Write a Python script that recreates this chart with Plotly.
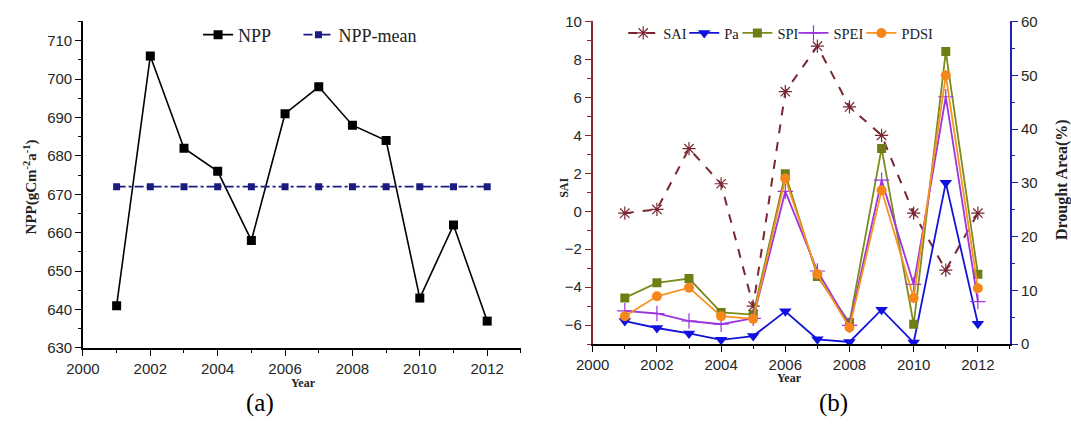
import plotly.graph_objects as go

# ---------------- data ----------------
years = [2001, 2002, 2003, 2004, 2005, 2006, 2007, 2008, 2009, 2010, 2011, 2012]
npp = [641, 706, 682, 676, 658, 691, 698, 688, 684, 643, 662, 637]
npp_mean = [672] * 12

sai = [-0.1, 0.1, 3.3, 1.45, -5.0, 6.3, 8.7, 5.5, 4.0, -0.1, -3.1, -0.1]
pa = [4.3, 3.0, 2.0, 0.8, 1.5, 6.1, 0.9, 0.4, 6.4, 0.3, 30.0, 3.8]
spi = [8.6, 11.4, 12.2, 5.9, 5.5, 31.7, 12.6, 4.0, 36.4, 3.7, 54.4, 13.0]
spei = [6.2, 5.7, 4.3, 3.7, 4.8, 28.4, 13.6, 3.5, 30.5, 11.1, 46.0, 7.9]
pdsi = [5.2, 8.9, 10.5, 5.2, 4.7, 30.8, 13.0, 3.1, 28.6, 8.6, 50.0, 10.4]

W, H = 1071, 428
def px(x):
    return x / W
def py(y):
    return 1 - y / H

SERIF = "Liberation Serif"
SANS = "Liberation Sans"
TICKFONT = dict(family=SANS, size=15, color="#262626")
TXT = "#222222"

fig = go.Figure()

# ---- panel (a) ----
fig.add_trace(go.Scatter(x=years, y=npp, name="NPP", mode="lines+markers",
                         line=dict(color="black", width=1.6),
                         marker=dict(symbol="square", size=9, color="black"),
                         xaxis="x", yaxis="y", legend="legend"))
fig.add_trace(go.Scatter(x=years, y=npp_mean, name="NPP-mean", mode="lines+markers",
                         line=dict(color="#1a1a80", width=1.6, dash="dashdot"),
                         marker=dict(symbol="square", size=7, color="#1a1a80"),
                         xaxis="x", yaxis="y", legend="legend2"))

# ---- panel (b) ----
fig.add_trace(go.Scatter(x=years, y=sai, name="SAI", mode="lines+markers",
                         line=dict(color="#7a2630", width=2, dash="dash"),
                         marker=dict(symbol="asterisk-open", size=11,
                                     line=dict(color="#a0505a", width=1.2)),
                         xaxis="x2", yaxis="y2", legend="legend3"))
fig.add_trace(go.Scatter(x=years, y=pa, name="Pa", mode="lines+markers",
                         line=dict(color="#1414d8", width=1.8),
                         marker=dict(symbol="triangle-down", size=11, color="#1010e0"),
                         xaxis="x2", yaxis="y3", legend="legend4"))
fig.add_trace(go.Scatter(x=years, y=spi, name="SPI", mode="lines+markers",
                         line=dict(color="#7d8a1e", width=1.8),
                         marker=dict(symbol="square", size=9, color="#6f7d15"),
                         xaxis="x2", yaxis="y3", legend="legend5"))
fig.add_trace(go.Scatter(x=years, y=spei, name="SPEI", mode="lines+markers",
                         line=dict(color="#9b35e0", width=1.8),
                         marker=dict(symbol="cross-thin-open", size=11,
                                     line=dict(color="#a050f0", width=1.2)),
                         xaxis="x2", yaxis="y3", legend="legend6"))
fig.add_trace(go.Scatter(x=years, y=pdsi, name="PDSI", mode="lines+markers",
                         line=dict(color="#f7931e", width=1.8),
                         marker=dict(symbol="circle", size=10, color="#f7861a"),
                         xaxis="x2", yaxis="y3", legend="legend7"))

def xax(domain, anchor):
    return dict(domain=domain, anchor=anchor, range=[2000, 2013], tick0=2000, dtick=2,
                showgrid=False, zeroline=False, showline=True, linecolor="black",
                linewidth=1.5, ticks="outside", ticklen=6, tickwidth=1.3,
                tickcolor="black", tickfont=TICKFONT,
                minor=dict(dtick=1, tick0=2000, ticks="outside", ticklen=3.5,
                           tickcolor="black", tickwidth=1.2))

def leg(xpix, ypix, size):
    return dict(orientation="h", x=px(xpix), y=py(ypix), xanchor="left", yanchor="middle",
                font=dict(family=SERIF, size=size, color=TXT), bgcolor="rgba(0,0,0,0)",
                itemwidth=30)

fig.update_layout(
    width=W, height=H, margin=dict(l=0, r=0, t=0, b=0),
    paper_bgcolor="white", plot_bgcolor="white", showlegend=True,
    xaxis=xax([px(67), px(512)], "y"),
    yaxis=dict(domain=[py(353), py(13)], anchor="x", range=[630, 715], tick0=630, dtick=10,
               showgrid=False, zeroline=False, showline=True, linecolor="black",
               linewidth=1.5, ticks="outside", ticklen=6, tickwidth=1.3,
               tickcolor="black", tickfont=TICKFONT,
               minor=dict(dtick=5, tick0=630, ticks="outside", ticklen=3.5,
                          tickcolor="black", tickwidth=1.2)),
    xaxis2=xax([px(585), px(1009)], "y2"),
    yaxis2=dict(domain=[py(349), py(13)], anchor="x2", range=[-7, 10], tick0=0, dtick=2,
                showgrid=False, zeroline=False, showline=True, linecolor="#8b2a2a",
                linewidth=1.8, ticks="outside", ticklen=6, tickwidth=1.3,
                tickcolor="#8b2a2a", tickfont=TICKFONT,
                minor=dict(dtick=1, tick0=0, ticks="outside", ticklen=3.5,
                           tickcolor="#8b2a2a", tickwidth=1.2)),
    yaxis3=dict(overlaying="y2", anchor="x2", side="right", range=[0, 60], tick0=0, dtick=10,
                showgrid=False, zeroline=False, showline=True, linecolor="#2020b0",
                linewidth=1.8, ticks="outside", ticklen=6, tickwidth=1.3,
                tickcolor="#2020b0", tickfont=TICKFONT,
                minor=dict(dtick=5, tick0=0, ticks="outside", ticklen=3.5,
                           tickcolor="#2020b0", tickwidth=1.2)),
    legend=leg(184, 27, 18),
    legend2=leg(286, 27, 18),
    legend3=leg(616, 25, 14.5),
    legend4=leg(678, 25, 14.5),
    legend5=leg(732, 25, 14.5),
    legend6=leg(789, 25, 14.5),
    legend7=leg(858, 25, 14.5),
)

ann = [
    dict(text="<b>NPP(gCm<sup>-2</sup>a<sup>-1</sup>)</b>", x=px(14), y=py(185), textangle=-90,
         font=dict(family=SERIF, size=15, color=TXT)),
    dict(text="<b>Year</b>", x=px(291), y=py(389), font=dict(family=SERIF, size=12, color=TXT)),
    dict(text="<b>Year</b>", x=px(785), y=py(384), font=dict(family=SERIF, size=12, color=TXT)),
    dict(text="<b>SAI</b>", x=px(555), y=py(186), textangle=-90,
         font=dict(family=SERIF, size=12, color=TXT)),
    dict(text="<b>Drought Area(%)</b>", x=px(1062), y=py(178), textangle=-90,
         font=dict(family=SERIF, size=16, color=TXT)),
    dict(text="(a)", x=px(247), y=py(410), font=dict(family=SERIF, size=25, color="black")),
    dict(text="(b)", x=px(830), y=py(410), font=dict(family=SERIF, size=25, color="black")),
]
for a in ann:
    a.update(xref="paper", yref="paper", showarrow=False, xanchor="center", yanchor="middle")
fig.update_layout(annotations=ann)

fig.write_html("out.html")
